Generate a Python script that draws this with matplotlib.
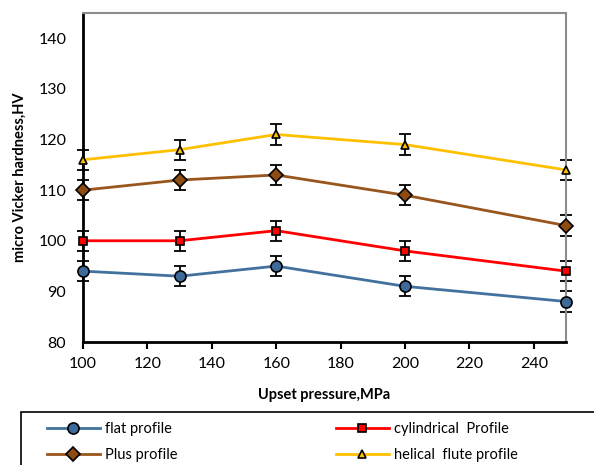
import matplotlib.pyplot as plt
from matplotlib.patches import Rectangle

plt.rcParams['font.family'] = ['Lato', 'DejaVu Sans']

# data
pressure = [100, 130, 160, 200, 250]
flat = [94, 93, 95, 91, 88]
cylindrical = [100, 100, 102, 98, 94]
plus = [110, 112, 113, 109, 103]
helical = [116, 118, 121, 119, 114]
err = [2, 2, 2, 2, 2]

series = [
    ("flat profile", flat, "#41719C", "#3D6A99", "o", 8),
    ("cylindrical  Profile", cylindrical, "#FF0000", "#FF0000", "s", 6),
    ("Plus profile", plus, "#99561C", "#8E4B12", "D", 7.5),
    ("helical  flute profile", helical, "#FFC000", "#FFC000", "^", 6),
]

W, H = 594, 465
fig = plt.figure(figsize=(W / 100, H / 100), dpi=100)
ax = fig.add_axes([83 / W, 1 - 342 / H, (566 - 83) / W, (342 - 13) / H])

handles = {}
for label, vals, lc, mc, mk, ms in series:
    ax.errorbar(pressure, vals, yerr=err, fmt='none', ecolor='black',
                elinewidth=1.3, capsize=4, capthick=1.3, zorder=2, clip_on=False)
    ln, = ax.plot(pressure, vals, color=lc, lw=2, marker=mk, markersize=ms,
                  markerfacecolor=mc, markeredgecolor='black', markeredgewidth=1.2,
                  zorder=3, clip_on=False)
    handles[label] = ln

ax.set_xlim(100, 250)
ax.set_ylim(80, 145)
ax.set_xticks(range(100, 241, 20))
ax.set_yticks(range(80, 141, 10))
ax.tick_params(axis='x', direction='out', length=5, width=1.5, labelsize=11.5, pad=6)
ax.tick_params(axis='y', length=0, labelsize=11.5, pad=12)

ax.spines['left'].set_color('black')
ax.spines['left'].set_linewidth(2)
ax.spines['bottom'].set_color('black')
ax.spines['bottom'].set_linewidth(2)
ax.spines['top'].set_color('#8C8C8C')
ax.spines['right'].set_color('#8C8C8C')
ax.spines['top'].set_linewidth(1.5)
ax.spines['right'].set_linewidth(1.5)

ax.set_xlabel("Upset pressure,MPa", fontsize=10.5, fontweight='bold', labelpad=12)
ax.set_ylabel("micro Vicker hardness,HV", fontsize=10.5, fontweight='bold', labelpad=8)

# legend box runs off the right and bottom edges, as in the reference
fig.add_artist(Rectangle((20.7 / W, -0.1), 1.0, 1 - 412 / H + 0.1,
                         transform=fig.transFigure, fill=False,
                         edgecolor='black', linewidth=1.2))

order = ["flat profile", "Plus profile", "cylindrical  Profile", "helical  flute profile"]
leg = fig.legend([handles[k] for k in order], order, loc='upper left',
                 bbox_to_anchor=(47 / W, 1 - 422 / H), ncol=2,
                 fontsize=10.5, frameon=False,
                 handlelength=3.6, handletextpad=0.35, columnspacing=10.9,
                 labelspacing=0.8, borderpad=0, borderaxespad=0)

fig.savefig("out.png", dpi=100)
